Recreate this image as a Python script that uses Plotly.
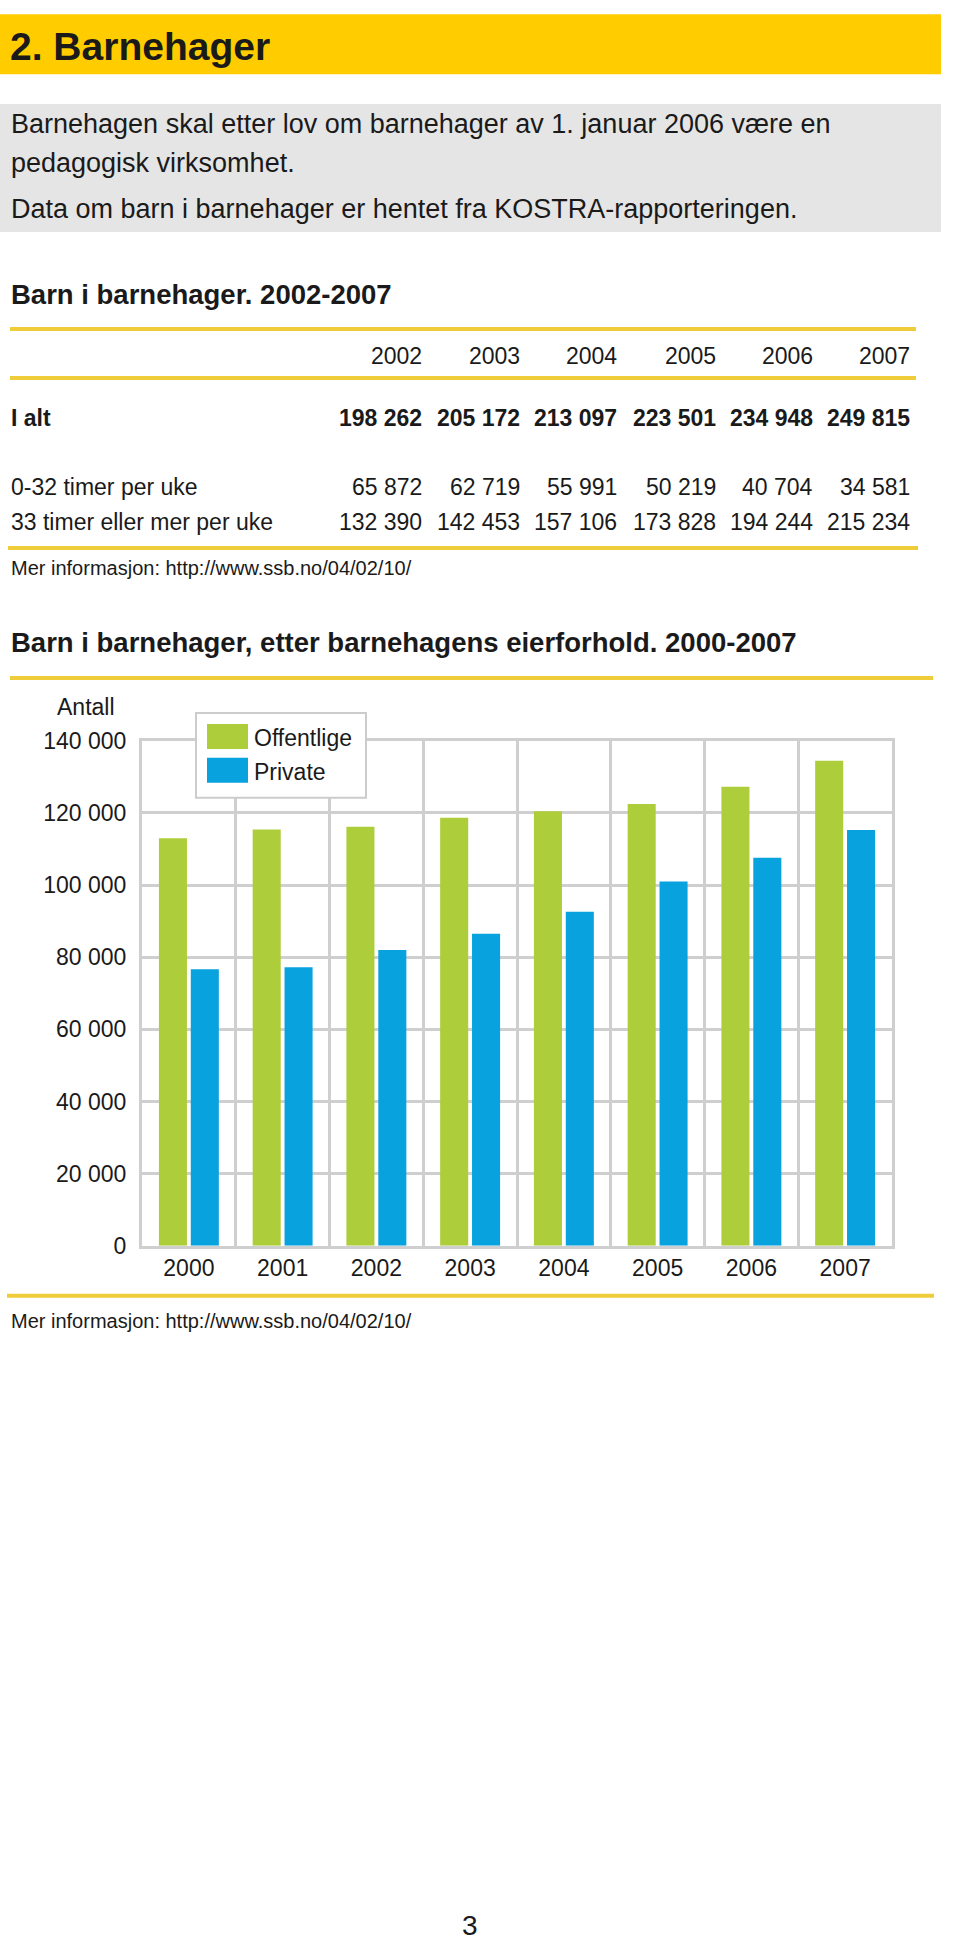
import plotly.graph_objects as go

# ---------------- data ----------------
table_years = ["2002", "2003", "2004", "2005", "2006", "2007"]
row_labels = ["I alt", "0-32 timer per uke", "33 timer eller mer per uke"]
i_alt = [198262, 205172, 213097, 223501, 234948, 249815]
timer_0_32 = [65872, 62719, 55991, 50219, 40704, 34581]
timer_33 = [132390, 142453, 157106, 173828, 194244, 215234]

chart_years = [2000, 2001, 2002, 2003, 2004, 2005, 2006, 2007]
offentlige = [113000, 115400, 116200, 118700, 120500, 122500, 127300, 134500]
private = [76700, 77200, 82000, 86500, 92600, 101000, 107600, 115300]
series_names = ["Offentlige", "Private"]

W, H = 960, 1944
FONT = "Liberation Sans, Arial, sans-serif"
YELLOW = "#ffcc00"
LINE_YELLOW = "#efcd3a"
GREEN = "#aecd3b"
BLUE = "#08a2de"
GRID = "#cfcfcf"
TXT = "#1a1a1a"

# small vertical calibration of the page layout (observed in the viewer)
Y_SCALE, Y_OFF = 0.987, 12


def px(x):
    return x / W


def py(y):
    return 1 - (y / Y_SCALE - Y_OFF) / H


def fmt(v):
    return f"{v:,}".replace(",", " ")


shapes = []
annotations = []


def rect(x0, y0, x1, y1, fill, line_color=None, line_width=0, layer="below"):
    shapes.append(dict(type="rect", xref="paper", yref="paper",
                       x0=px(x0), x1=px(x1), y0=py(y1), y1=py(y0),
                       fillcolor=fill,
                       line=dict(color=line_color or fill, width=line_width),
                       layer=layer))


def hline(x0, x1, y, color=LINE_YELLOW, width=4):
    shapes.append(dict(type="line", xref="paper", yref="paper",
                       x0=px(x0), x1=px(x1), y0=py(y), y1=py(y),
                       line=dict(color=color, width=width)))


def text(x, y, s, size, bold=False, anchor="left", color=TXT):
    if bold:
        s = f"<b>{s}</b>"
    annotations.append(dict(xref="paper", yref="paper", x=px(x), y=py(y),
                            text=s, showarrow=False, xanchor=anchor,
                            yanchor="middle",
                            font=dict(family=FONT, size=size, color=color)))


# header band
rect(0, 13, 941, 73, YELLOW)
text(8, 45, "2. Barnehager", 39, bold=True)

# gray intro box
rect(0, 103, 941, 231, "#e5e5e5")
text(9, 123, "Barnehagen skal etter lov om barnehager av 1. januar 2006 være en", 27)
text(9, 162, "pedagogisk virksomhet.", 27)
text(9, 208, "Data om barn i barnehager er hentet fra KOSTRA-rapporteringen.", 27)

# table
text(9, 293, "Barn i barnehager. 2002-2007", 27.5, bold=True)
hline(10, 916, 328)
hline(10, 916, 377)
hline(8, 918, 547)
col_right = [424, 522, 619, 718, 815, 912]
for xr, yr in zip(col_right, table_years):
    text(xr, 355, yr, 23, anchor="right")
rows = [(row_labels[0], i_alt, 417, True),
        (row_labels[1], timer_0_32, 486, False),
        (row_labels[2], timer_33, 521, False)]
for lab, vals, yy, b in rows:
    text(9, yy, lab, 23, bold=b)
    for xr, v in zip(col_right, vals):
        text(xr, yy, fmt(v), 23, bold=b, anchor="right")
text(9, 567, "Mer informasjon: http://www.ssb.no/04/02/10/", 20)

# chart heading
text(9, 642, "Barn i barnehager, etter barnehagens eierforhold. 2000-2007", 27.5, bold=True)
hline(10, 933, 677)
text(86, 706, "Antall", 23, anchor="center")

# bottom of chart
hline(7, 934, 1295)
text(9, 1320, "Mer informasjon: http://www.ssb.no/04/02/10/", 20)

# page number
text(470, 1925, "3", 28, anchor="center")

# legend (drawn)
rect(196, 712, 366, 797, "#ffffff", line_color="#cccccc", line_width=2, layer="above")
rect(207, 723, 248, 748, GREEN, layer="above")
rect(207, 757, 248, 782, BLUE, layer="above")
text(252, 737, series_names[0], 23)
text(252, 771, series_names[1], 23)

fig = go.Figure()
fig.add_trace(go.Bar(x=chart_years, y=offentlige, name=series_names[0],
                     marker=dict(color=GREEN, line=dict(width=0))))
fig.add_trace(go.Bar(x=chart_years, y=private, name=series_names[1],
                     marker=dict(color=BLUE, line=dict(width=0))))

plot_x0, plot_x1 = 142, 892
plot_y0, plot_y1 = 740, 1245

fig.update_layout(
    width=W, height=H,
    margin=dict(l=0, r=0, t=0, b=0),
    paper_bgcolor="white", plot_bgcolor="white",
    showlegend=False,
    barmode="group", bargap=0.32, bargroupgap=0.12,
    separators=", ",
    font=dict(family=FONT, color=TXT),
    shapes=shapes, annotations=annotations,
    xaxis=dict(domain=[px(plot_x0), px(plot_x1)],
               range=[1999.5, 2007.5], tickmode="array",
               tickvals=chart_years, ticktext=[str(y) for y in chart_years],
               showgrid=False, zeroline=False,
               showline=True, mirror=True, linecolor=GRID, linewidth=3,
               ticks="", ticklabelstandoff=0,
               tickfont=dict(family=FONT, size=23, color=TXT)
               , minor=dict(tick0=1999.5, dtick=1, showgrid=True,
                            gridcolor=GRID, gridwidth=3)),
    yaxis=dict(domain=[py(plot_y1), py(plot_y0)],
               range=[0, 140000], tickmode="linear", tick0=0, dtick=20000,
               tickformat=",d", showgrid=True, gridcolor=GRID, gridwidth=3,
               zeroline=False, showline=True, mirror=True, linecolor=GRID,
               linewidth=3, ticks="", ticklabelstandoff=8,
               tickfont=dict(family=FONT, size=23, color=TXT)),
)

fig.write_html("out.html", config={"displayModeBar": False},
               post_script="document.body.style.margin='0';")
